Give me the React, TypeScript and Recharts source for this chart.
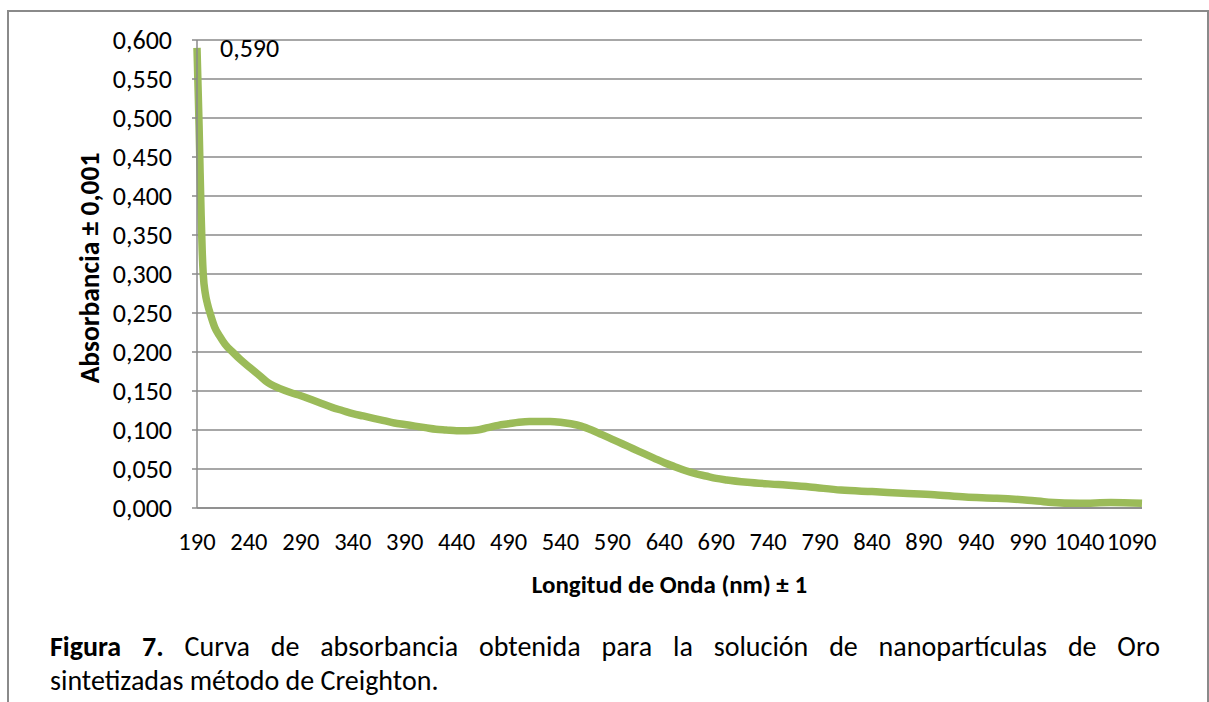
import React from 'react';
import { LineChart, Line, XAxis, YAxis, CartesianGrid, LabelList, Label } from 'recharts';

const wavelengths = [190, 191, 192, 193, 194, 195, 196, 198, 200, 203, 207, 212, 217, 225, 232, 241, 250, 258, 265, 270, 280, 290, 300, 310, 320, 330, 340, 350, 360, 370, 380, 390, 400, 410, 420, 430, 440, 450, 460, 470, 480, 490, 500, 510, 520, 530, 540, 550, 560, 570, 580, 590, 600, 610, 620, 630, 640, 650, 660, 670, 680, 690, 700, 720, 750, 780, 810, 840, 870, 900, 930, 960, 990, 1010, 1040, 1070, 1100];
const absorbance = [0.590, 0.540, 0.490, 0.430, 0.375, 0.330, 0.300, 0.275, 0.262, 0.248, 0.232, 0.220, 0.210, 0.199, 0.190, 0.180, 0.170, 0.161, 0.156, 0.153, 0.148, 0.144, 0.139, 0.134, 0.129, 0.125, 0.121, 0.118, 0.115, 0.112, 0.109, 0.107, 0.105, 0.103, 0.101, 0.100, 0.099, 0.099, 0.100, 0.103, 0.106, 0.108, 0.110, 0.111, 0.111, 0.111, 0.110, 0.108, 0.105, 0.100, 0.094, 0.088, 0.082, 0.076, 0.070, 0.064, 0.058, 0.053, 0.048, 0.044, 0.041, 0.038, 0.036, 0.033, 0.030, 0.027, 0.023, 0.021, 0.019, 0.017, 0.014, 0.0125, 0.010, 0.0075, 0.006, 0.007, 0.006];
const xTicks = [190, 240, 290, 340, 390, 440, 490, 540, 590, 640, 690, 740, 790, 840, 890, 940, 990, 1040, 1090];
const yTicks = [0, 0.05, 0.1, 0.15, 0.2, 0.25, 0.3, 0.35, 0.4, 0.45, 0.5, 0.55, 0.6];
const xTitle = 'Longitud de Onda (nm) ± 1';
const yTitle = 'Absorbancia ± 0,001';
const captionBold = 'Figura 7.';
const captionLine1 = ' Curva de absorbancia obtenida para la solución de nanopartículas de Oro';
const captionLine2 = 'sintetizadas método de Creighton.';

const data = wavelengths.map((w, i) => ({ nm: w, a: absorbance[i] }));

const FONT = 'Carlito, Calibri, Lato, sans-serif';
const GRID = '#8a8a8a';
const fmt = (v: number) => v.toFixed(3).replace('.', ',');

const YTick = (props: any) => {
  const { x, y, payload } = props;
  return (
    <text x={x} y={y} textAnchor="end" dominantBaseline="central" fontFamily={FONT} fontSize={26} fill="#000">
      {fmt(payload.value)}
    </text>
  );
};

const XTick = (props: any) => {
  const { x, y, payload } = props;
  return (
    <text x={x} y={y} dy="0.71em" textAnchor="middle" fontFamily={FONT} fontSize={24.5} fill="#000">
      {payload.value}
    </text>
  );
};

export default function App() {
  return (
    <div style={{ position: 'absolute', left: 0, top: 0, width: 1209, height: 702, overflow: 'hidden', background: '#fff' }}>
      <div style={{ position: 'absolute', left: 7, top: 10, width: 1202, height: 760, border: '2px solid #8a8a8a', boxSizing: 'border-box' }} />
      <div style={{ position: 'absolute', left: 0, top: 0 }}>
        <LineChart width={1209} height={620} data={data} margin={{ top: 40, right: 67, bottom: 0, left: 0 }}>
          <CartesianGrid vertical={false} stroke={GRID} strokeWidth={1.5} />
          <XAxis
            dataKey="nm"
            type="number"
            domain={[190, 1100]}
            ticks={xTicks}
            height={112}
            tickLine={false}
            axisLine={{ stroke: GRID, strokeWidth: 1.5 }}
            tickMargin={19}
            tick={<XTick />}
            interval={0}
          >
            <Label
              content={(p: any) => {
                const vb = p.viewBox;
                return (
                  <text x={vb.x + vb.width / 2} y={vb.y + 76} textAnchor="middle" dominantBaseline="central" fontFamily={FONT} fontWeight="bold" fontSize={25} fill="#000">
                    {xTitle}
                  </text>
                );
              }}
            />
          </XAxis>
          <YAxis
            type="number"
            domain={[0, 0.6]}
            ticks={yTicks}
            width={197}
            tickSize={5}
            tickLine={{ stroke: GRID, strokeWidth: 1.5 }}
            axisLine={{ stroke: GRID, strokeWidth: 1.5 }}
            tickMargin={20}
            tick={<YTick />}
            interval={0}
          >
            <Label
              content={() => (
                <text x={89} y={268} transform="rotate(-90 89 268)" textAnchor="middle" dominantBaseline="central" fontFamily={FONT} fontWeight="bold" fontSize={27.5} fill="#000">
                  {yTitle}
                </text>
              )}
            />
          </YAxis>
          <Line type="monotone" dataKey="a" stroke="#9BBB59" strokeWidth={7.5} dot={false} isAnimationActive={false}>
            <LabelList
              dataKey="a"
              content={(p: any) =>
                p.index === 0 ? (
                  <text x={p.x + 23} y={p.y} dominantBaseline="central" fontFamily={FONT} fontSize={26} fill="#000">
                    {fmt(Number(p.value))}
                  </text>
                ) : null
              }
            />
          </Line>
        </LineChart>
      </div>
      <div style={{ position: 'absolute', left: 50, top: 630, width: 1110, fontFamily: FONT, fontSize: 28, lineHeight: '34px', textAlign: 'justify', textAlignLast: 'justify', color: '#000', whiteSpace: 'nowrap' as any }}>
        <b>{captionBold}</b>{captionLine1}
      </div>
      <div style={{ position: 'absolute', left: 50, top: 664, fontFamily: FONT, fontSize: 28, lineHeight: '34px', color: '#000' }}>
        {captionLine2}
      </div>
    </div>
  );
}
